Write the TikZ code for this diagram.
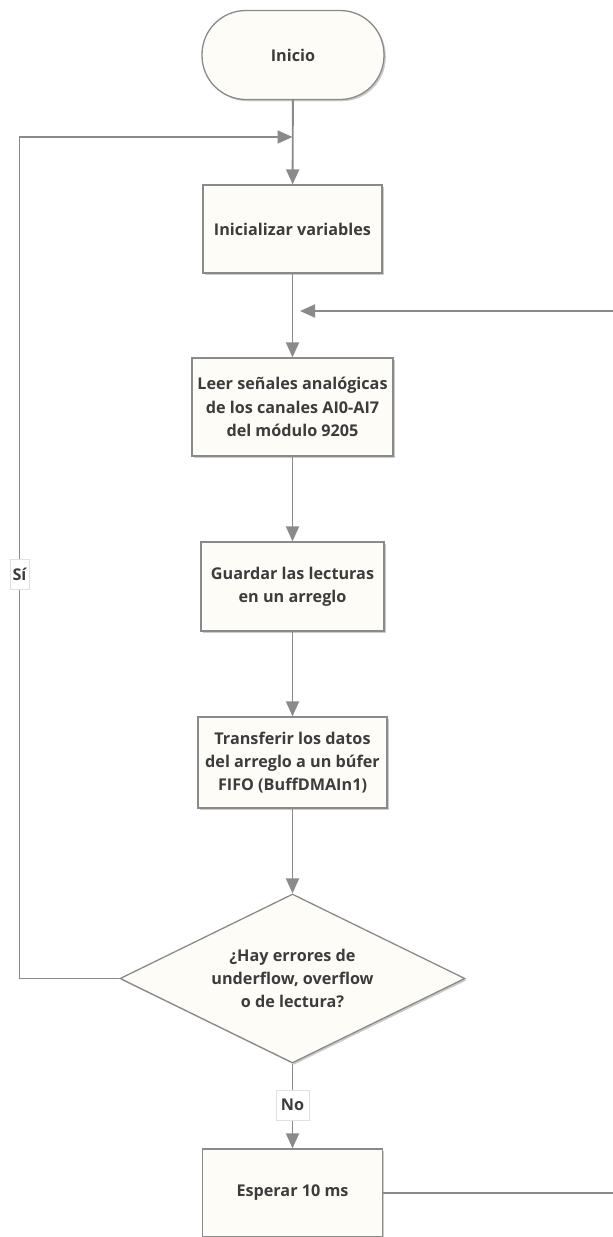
\documentclass[tikz,border=0pt]{standalone}
\usepackage{fontspec}
\setmainfont{Open Sans}
\usetikzlibrary{arrows.meta,shapes.geometric,shadows}
\definecolor{linegray}{HTML}{8A8A8A}
\definecolor{boxfill}{HTML}{FEFCF7}
\definecolor{boxborder}{HTML}{8A8A8A}
\definecolor{txt}{HTML}{3C3C3C}
\begin{document}
\begin{tikzpicture}[x=1pt,y=-1pt,
  every node/.style={font=\fontsize{16.2}{23.3}\selectfont\bfseries, text=txt},
  procbox/.style={draw=boxborder, line width=1.3pt, fill=boxfill, align=center, inner sep=0pt,
    drop shadow={shadow xshift=1.8pt, shadow yshift=-1.8pt, fill=black!45, opacity=.45}},
  flow/.style={draw=linegray, line width=1.9pt, -{Triangle[width=13pt,length=15pt]}},
  lbl/.style={fill=white, draw=black!12, line width=0.6pt, inner ysep=0pt, minimum height=30pt}
]
\useasboundingbox (0,0) rectangle (613,1237);
\node[procbox, rounded corners=44pt, minimum width=182pt, minimum height=89pt] (inicio) at (293,55) {Inicio};
\node[procbox, minimum width=179pt, minimum height=88pt] (init) at (292.5,229) {Inicializar variables};
\node[procbox, minimum width=201pt, minimum height=98pt] (leer) at (292.5,407) {Leer señales analógicas\\de los canales AI0-AI7\\del módulo 9205};
\node[procbox, minimum width=183pt, minimum height=89pt] (guardar) at (292.5,586.5) {Guardar las lecturas\\en un arreglo};
\node[procbox, minimum width=189pt, minimum height=91pt] (transf) at (292.5,762.5) {Transferir los datos\\del arreglo a un búfer\\FIFO (BuffDMAIn1)};
\node[procbox, diamond, aspect=2.04, minimum width=345pt, minimum height=169pt] (dec) at (292.5,978.5) {¿Hay errores de\\underflow, overflow\\o de lectura?};
\node[procbox, minimum width=180pt, minimum height=88pt] (esperar) at (292.5,1193) {Esperar 10 ms};

\coordinate (topjoin) at (292.5,137);
\coordinate (leftbot) at (19.5,978.5);
\coordinate (lefttop) at (19.5,137);
\coordinate (rightbot) at (630,1193);
\coordinate (righttop) at (630,311);
\coordinate (rightin) at (300,311);

\draw[flow] (inicio) -- (init);
\draw[flow] (init) -- (leer);
\draw[flow] (leer) -- (guardar);
\draw[flow] (guardar) -- (transf);
\draw[flow] (transf) -- (dec);
\draw[flow] (dec) -- node[lbl, pos=0.49, inner xsep=5pt] (no) {No} (esperar);
\draw[flow] (dec.west) -- (leftbot) -- node[lbl, pos=0.48, inner xsep=2.5pt] (si) {Sí} (lefttop) -- (topjoin);
\draw[flow] (esperar.east) -- (rightbot) -- (righttop) -- (rightin);
\end{tikzpicture}
\end{document}
